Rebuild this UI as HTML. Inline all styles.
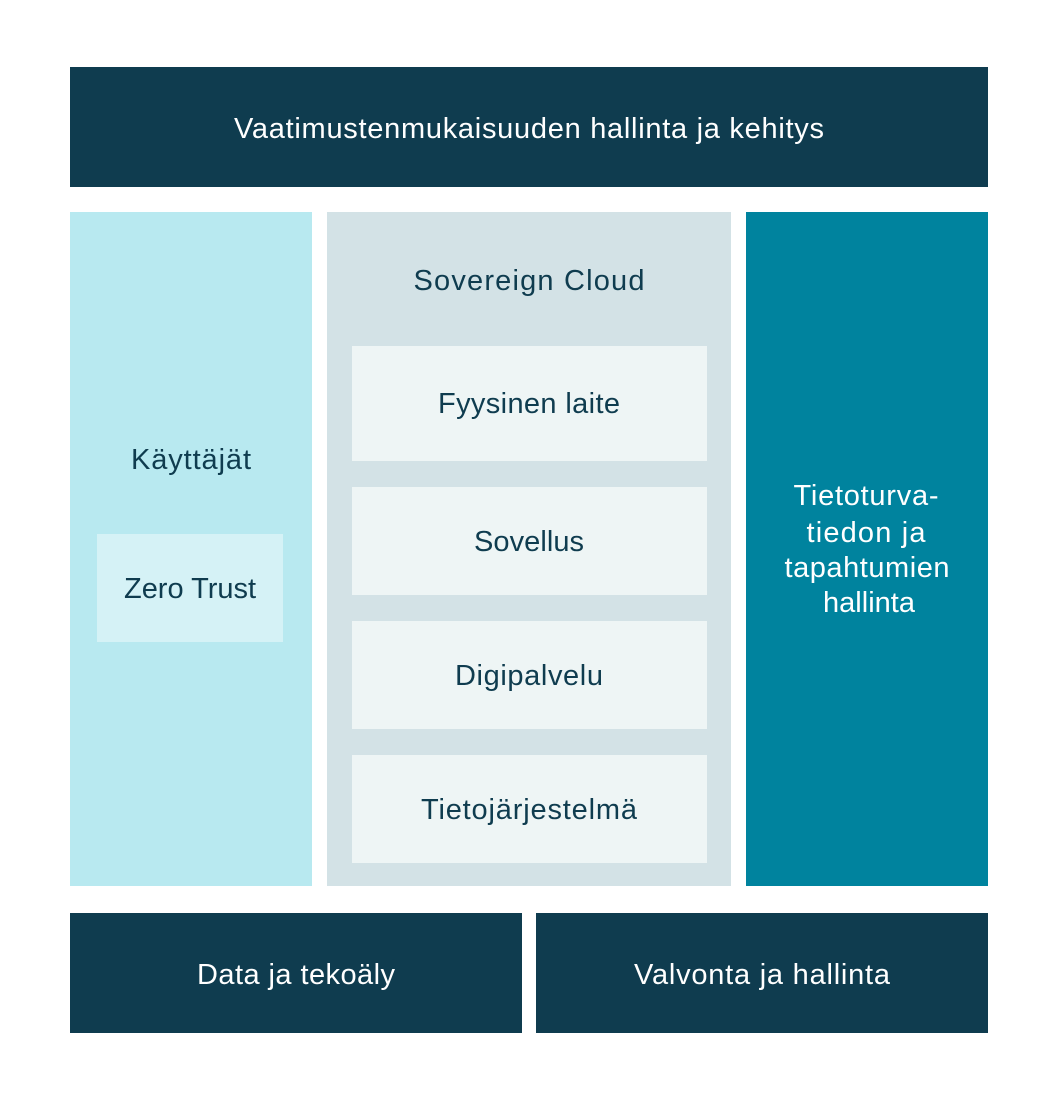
<!DOCTYPE html>
<html>
<head>
<meta charset="utf-8">
<style>
  html, body { margin: 0; padding: 0; background: #ffffff; }
  body { width: 1062px; height: 1101px; overflow: hidden; }
  svg { display: block; }
  text { font-family: "Liberation Sans", "DejaVu Sans", sans-serif; font-size: 29px; }
  .w { fill: #ffffff; }
  .d { fill: #0f3c4f; }
</style>
</head>
<body>
<svg width="1062" height="1101" viewBox="0 0 1062 1101" xmlns="http://www.w3.org/2000/svg">
  <rect x="0" y="0" width="1062" height="1101" fill="#ffffff"/>

  <!-- Top bar -->
  <rect x="70" y="67" width="918" height="120" fill="#0f3c4f"/>
  <text class="w" x="529" y="138" text-anchor="middle" textLength="590" lengthAdjust="spacing">Vaatimustenmukaisuuden hallinta ja kehitys</text>

  <!-- Left column -->
  <rect x="70" y="212" width="242" height="674" fill="#b8e9f0"/>
  <text class="d" x="191" y="469" text-anchor="middle" textLength="120" lengthAdjust="spacing">Käyttäjät</text>
  <rect x="97" y="534" width="186" height="108" fill="#d5f2f6"/>
  <text class="d" x="190" y="598" text-anchor="middle" textLength="132" lengthAdjust="spacing">Zero Trust</text>

  <!-- Middle column -->
  <rect x="327" y="212" width="404" height="674" fill="#d3e2e6"/>
  <text class="d" x="529" y="290" text-anchor="middle" textLength="231" lengthAdjust="spacing">Sovereign Cloud</text>

  <rect x="352" y="346" width="355" height="115" fill="#eef5f5"/>
  <text class="d" x="529" y="413" text-anchor="middle" textLength="182" lengthAdjust="spacing">Fyysinen laite</text>

  <rect x="352" y="487" width="355" height="108" fill="#eef5f5"/>
  <text class="d" x="529" y="551" text-anchor="middle" textLength="110" lengthAdjust="spacing">Sovellus</text>

  <rect x="352" y="621" width="355" height="108" fill="#eef5f5"/>
  <text class="d" x="529" y="685" text-anchor="middle" textLength="148" lengthAdjust="spacing">Digipalvelu</text>

  <rect x="352" y="755" width="355" height="108" fill="#eef5f5"/>
  <text class="d" x="529" y="819" text-anchor="middle" textLength="216" lengthAdjust="spacing">Tietojärjestelmä</text>

  <!-- Right column -->
  <rect x="746" y="212" width="242" height="674" fill="#00839e"/>
  <text class="w" x="866" y="505" text-anchor="middle" textLength="145" lengthAdjust="spacing">Tietoturva-</text>
  <text class="w" x="866" y="542" text-anchor="middle" textLength="119" lengthAdjust="spacing">tiedon ja</text>
  <text class="w" x="867" y="577" text-anchor="middle" textLength="165" lengthAdjust="spacing">tapahtumien</text>
  <text class="w" x="869" y="612" text-anchor="middle" textLength="92" lengthAdjust="spacing">hallinta</text>

  <!-- Bottom bars -->
  <rect x="70" y="913" width="452" height="120" fill="#0f3c4f"/>
  <text class="w" x="296" y="984" text-anchor="middle" textLength="198" lengthAdjust="spacing">Data ja tekoäly</text>

  <rect x="536" y="913" width="452" height="120" fill="#0f3c4f"/>
  <text class="w" x="762" y="984" text-anchor="middle" textLength="256" lengthAdjust="spacing">Valvonta ja hallinta</text>
</svg>
</body>
</html>
